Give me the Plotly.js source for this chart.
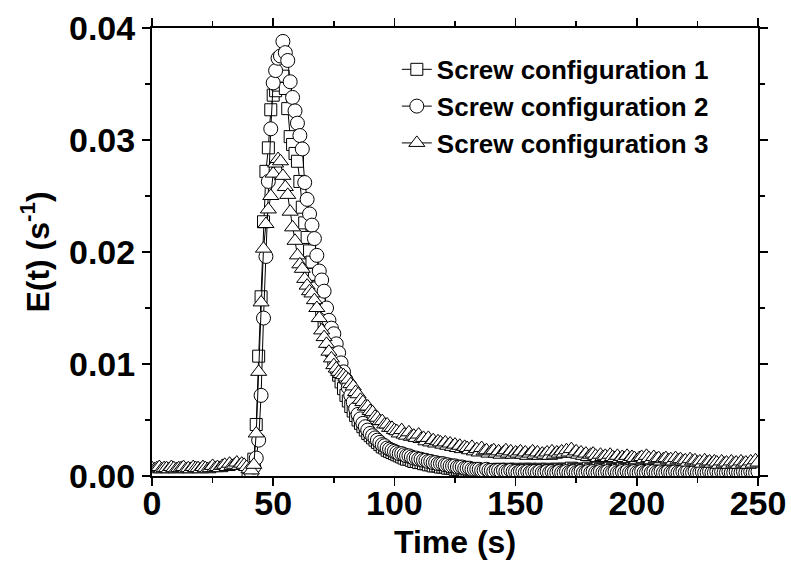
<!DOCTYPE html>
<html>
<head>
<meta charset="utf-8">
<script src="https://cdn.plot.ly/plotly-3.0.1.min.js"></script>
<style>html,body{margin:0;padding:0;background:#fff;}#chart{width:791px;height:572px;}</style>
</head>
<body>
<div id="chart"></div>
<script>
// Time grids (s)
var timeTri = [];
for (var i = 0; i <= 250; i++) timeTri.push(i);
var timeSq = [];
for (var j = 40; j <= 250; j++) timeSq.push(j);

var seriesNames = ["Screw configuration 1", "Screw configuration 2", "Screw configuration 3"];

// Screw configuration 1 (squares), t = 40..250
var config1 = [
0.0000,0.0004,0.0015,0.0046,0.0107,0.0160,0.0227,0.0272,0.0293,0.0327,
0.0340,0.0344,0.0349,0.0353,0.0357,0.0346,0.0328,0.0303,0.0296,0.0288,
0.0281,0.0263,0.0240,0.0226,0.0213,0.0201,0.0191,0.0180,0.0168,0.0157,
0.0147,0.0137,0.0128,0.0120,0.0112,0.0104,0.0097,0.0090,0.0084,0.0078,
0.0072,0.0067,0.0062,0.0058,0.0054,0.0050,0.0047,0.0044,0.0041,0.0038,
0.0036,0.0034,0.0032,0.0030,0.0028,0.0026,0.0025,0.0023,0.0022,0.0021,
0.0020,0.0019,0.0018,0.0017,0.0016,0.0015,0.0015,0.0014,0.0013,0.0013,
0.0012,0.0012,0.0011,0.0011,0.0010,0.0010,0.0009,0.0009,0.0009,0.0008,
0.0008,0.0008,0.0007,0.0007,0.0007,0.0006,0.0006,0.0006,0.0006,0.0005,
0.0005,0.0005,0.0005,0.0005,0.0004,0.0004,0.0004,0.0004,0.0004,0.0004,
0.0005,0.0004,0.0005,0.0006,0.0005,0.0004,0.0005,0.0006,0.0005,0.0005,
0.0006,0.0005,0.0004,0.0005,0.0006,0.0005,0.0006,0.0005,0.0004,0.0005,
0.0006,0.0005,0.0005,0.0006,0.0005,0.0004,0.0005,0.0006,0.0006,0.0005,
0.0006,0.0005,0.0006,0.0007,0.0006,0.0005,0.0006,0.0006,0.0005,0.0006,
0.0007,0.0006,0.0005,0.0006,0.0007,0.0006,0.0006,0.0005,0.0006,0.0007,
0.0006,0.0005,0.0006,0.0006,0.0007,0.0006,0.0005,0.0006,0.0007,0.0006,
0.0006,0.0005,0.0006,0.0007,0.0006,0.0005,0.0006,0.0006,0.0005,0.0006,
0.0007,0.0006,0.0005,0.0006,0.0006,0.0005,0.0006,0.0007,0.0006,0.0005,
0.0006,0.0006,0.0005,0.0006,0.0007,0.0006,0.0005,0.0006,0.0006,0.0005,
0.0006,0.0007,0.0006,0.0005,0.0006,0.0006,0.0005,0.0006,0.0007,0.0006,
0.0005,0.0006,0.0006,0.0005,0.0006,0.0007,0.0006,0.0005,0.0006,0.0006,
0.0006
];

// Screw configuration 2 (circles), t = 40..250
var config2 = [
0.0001,0.0003,0.0008,0.0016,0.0032,0.0072,0.0141,0.0196,0.0263,0.0310,
0.0351,0.0362,0.0373,0.0375,0.0388,0.0378,0.0371,0.0352,0.0338,0.0326,
0.0315,0.0304,0.0292,0.0262,0.0247,0.0234,0.0224,0.0212,0.0197,0.0183,
0.0175,0.0165,0.0150,0.0139,0.0132,0.0127,0.0118,0.0110,0.0101,0.0093,
0.0086,0.0079,0.0072,0.0066,0.0060,0.0055,0.0051,0.0047,0.0044,0.0041,
0.0038,0.0036,0.0034,0.0032,0.0030,0.0028,0.0027,0.0025,0.0024,0.0023,
0.0022,0.0021,0.0020,0.0020,0.0019,0.0018,0.0018,0.0017,0.0016,0.0016,
0.0015,0.0015,0.0014,0.0014,0.0013,0.0013,0.0012,0.0012,0.0011,0.0011,
0.0011,0.0010,0.0010,0.0009,0.0009,0.0009,0.0008,0.0008,0.0008,0.0007,
0.0007,0.0007,0.0006,0.0006,0.0006,0.0006,0.0005,0.0005,0.0006,0.0005,
0.0005,0.0004,0.0005,0.0005,0.0004,0.0005,0.0004,0.0004,0.0005,0.0004,
0.0004,0.0003,0.0004,0.0004,0.0003,0.0004,0.0003,0.0004,0.0004,0.0003,
0.0004,0.0003,0.0003,0.0004,0.0003,0.0004,0.0003,0.0003,0.0004,0.0003,
0.0003,0.0004,0.0003,0.0003,0.0004,0.0003,0.0003,0.0004,0.0003,0.0003,
0.0004,0.0003,0.0004,0.0003,0.0003,0.0004,0.0003,0.0003,0.0004,0.0003,
0.0003,0.0004,0.0003,0.0003,0.0004,0.0003,0.0004,0.0003,0.0003,0.0004,
0.0003,0.0003,0.0004,0.0003,0.0003,0.0004,0.0003,0.0004,0.0003,0.0003,
0.0004,0.0003,0.0003,0.0004,0.0003,0.0003,0.0004,0.0003,0.0003,0.0004,
0.0003,0.0004,0.0003,0.0003,0.0004,0.0003,0.0003,0.0004,0.0003,0.0003,
0.0004,0.0003,0.0003,0.0004,0.0003,0.0004,0.0003,0.0003,0.0004,0.0003,
0.0003,0.0004,0.0003,0.0003,0.0004,0.0003,0.0003,0.0004,0.0003,0.0003,
0.0004
];

// Screw configuration 3 (triangles), t = 0..250
var config3 = [
0.0007,0.0006,0.0007,0.0008,0.0006,0.0007,0.0007,0.0006,0.0008,0.0007,
0.0006,0.0007,0.0007,0.0008,0.0006,0.0007,0.0006,0.0008,0.0007,0.0007,
0.0006,0.0008,0.0007,0.0006,0.0007,0.0009,0.0007,0.0008,0.0007,0.0009,
0.0010,0.0008,0.0011,0.0009,0.0010,0.0012,0.0009,0.0011,0.0010,0.0008,
0.0006,0.0005,0.0010,0.0038,0.0093,0.0155,0.0203,0.0225,0.0238,0.0250,
0.0270,0.0279,0.0283,0.0281,0.0268,0.0258,0.0251,0.0236,0.0222,0.0210,
0.0197,0.0189,0.0185,0.0176,0.0170,0.0165,0.0163,0.0157,0.0150,0.0141,
0.0130,0.0124,0.0118,0.0111,0.0105,0.0099,0.0096,0.0093,0.0091,0.0090,
0.0088,0.0086,0.0082,0.0080,0.0075,0.0073,0.0068,0.0066,0.0062,0.0062,
0.0058,0.0057,0.0053,0.0052,0.0049,0.0049,0.0046,0.0046,0.0043,0.0043,
0.0041,0.0040,0.0038,0.0041,0.0037,0.0036,0.0039,0.0035,0.0036,0.0034,
0.0037,0.0033,0.0034,0.0031,0.0034,0.0030,0.0032,0.0029,0.0031,0.0030,
0.0028,0.0030,0.0027,0.0029,0.0026,0.0028,0.0025,0.0027,0.0024,0.0026,
0.0025,0.0023,0.0026,0.0022,0.0024,0.0021,0.0025,0.0022,0.0023,0.0020,
0.0022,0.0023,0.0020,0.0022,0.0019,0.0021,0.0023,0.0020,0.0022,0.0019,
0.0021,0.0020,0.0022,0.0019,0.0021,0.0018,0.0020,0.0022,0.0019,0.0021,
0.0018,0.0020,0.0019,0.0021,0.0018,0.0022,0.0019,0.0021,0.0020,0.0022,
0.0020,0.0023,0.0021,0.0024,0.0020,0.0022,0.0019,0.0021,0.0018,0.0020,
0.0017,0.0019,0.0020,0.0018,0.0016,0.0019,0.0017,0.0018,0.0016,0.0019,
0.0017,0.0016,0.0018,0.0015,0.0017,0.0016,0.0018,0.0015,0.0017,0.0016,
0.0014,0.0016,0.0017,0.0015,0.0018,0.0016,0.0014,0.0017,0.0015,0.0016,
0.0013,0.0015,0.0016,0.0014,0.0015,0.0013,0.0016,0.0014,0.0015,0.0013,
0.0014,0.0012,0.0015,0.0013,0.0014,0.0012,0.0013,0.0011,0.0014,0.0012,
0.0013,0.0011,0.0013,0.0012,0.0010,0.0013,0.0011,0.0012,0.0010,0.0013,
0.0011,0.0012,0.0010,0.0013,0.0011,0.0012,0.0010,0.0013,0.0011,0.0014,
0.0012
];

var xTickVals = [0, 50, 100, 150, 200, 250];
var yTickVals = [0.00, 0.01, 0.02, 0.03, 0.04];

var FONT = "Liberation Sans, Arial, sans-serif";

function mk(x, y, name, symbol, size) {
  return {
    x: x, y: y, name: name, type: "scatter", mode: "lines+markers",
    line: {color: "#000", width: 1},
    marker: {symbol: symbol, size: size, color: "#fff", line: {color: "#000", width: 1}},
    cliponaxis: true
  };
}

var traces = [
  mk(timeSq, config1, seriesNames[0], "square", 12),
  mk(timeSq, config2, seriesNames[1], "circle", 14),
  mk(timeTri, config3, seriesNames[2], "triangle-up", 14)
];

var axisCommon = {
  showgrid: false, zeroline: false,
  showline: true, linecolor: "#000", linewidth: 2, mirror: "allticks",
  ticks: "outside", ticklen: 8, tickwidth: 1.5, tickcolor: "#000",
  tickfont: {family: FONT, size: 34, color: "#000", weight: 700}
};

var layout = {
  width: 791, height: 572,
  margin: {l: 152, r: 33, t: 28, b: 96},
  paper_bgcolor: "#fff", plot_bgcolor: "#fff",
  showlegend: true,
  legend: {
    x: 0.404, y: 0.96, xanchor: "left", yanchor: "top",
    bgcolor: "rgba(0,0,0,0)", borderwidth: 0,
    font: {family: FONT, size: 26, color: "#000", weight: 700}
  },
  xaxis: Object.assign({}, axisCommon, {
    range: [0, 250], tickvals: xTickVals, ticktext: xTickVals.map(String),
    ticklabelstandoff: -12,
    minor: {dtick: 25, tick0: 0, ticks: "outside", ticklen: 5, tickwidth: 1.5, tickcolor: "#000"},
    title: {text: "Time (s)", standoff: 10, font: {family: FONT, size: 32, color: "#000", weight: 700}}
  }),
  yaxis: Object.assign({}, axisCommon, {
    range: [0, 0.04], tickvals: yTickVals, ticktext: yTickVals.map(function(v){return v.toFixed(2);}),
    minor: {dtick: 0.005, tick0: 0, ticks: "outside", ticklen: 5, tickwidth: 1.5, tickcolor: "#000"},
    title: {text: "E(t) (s<sup>-1</sup>)", standoff: 10, font: {family: FONT, size: 32, color: "#000", weight: 700}}
  })
};

Plotly.newPlot("chart", traces, layout, {displayModeBar: false, staticPlot: true});
</script>
</body>
</html>
